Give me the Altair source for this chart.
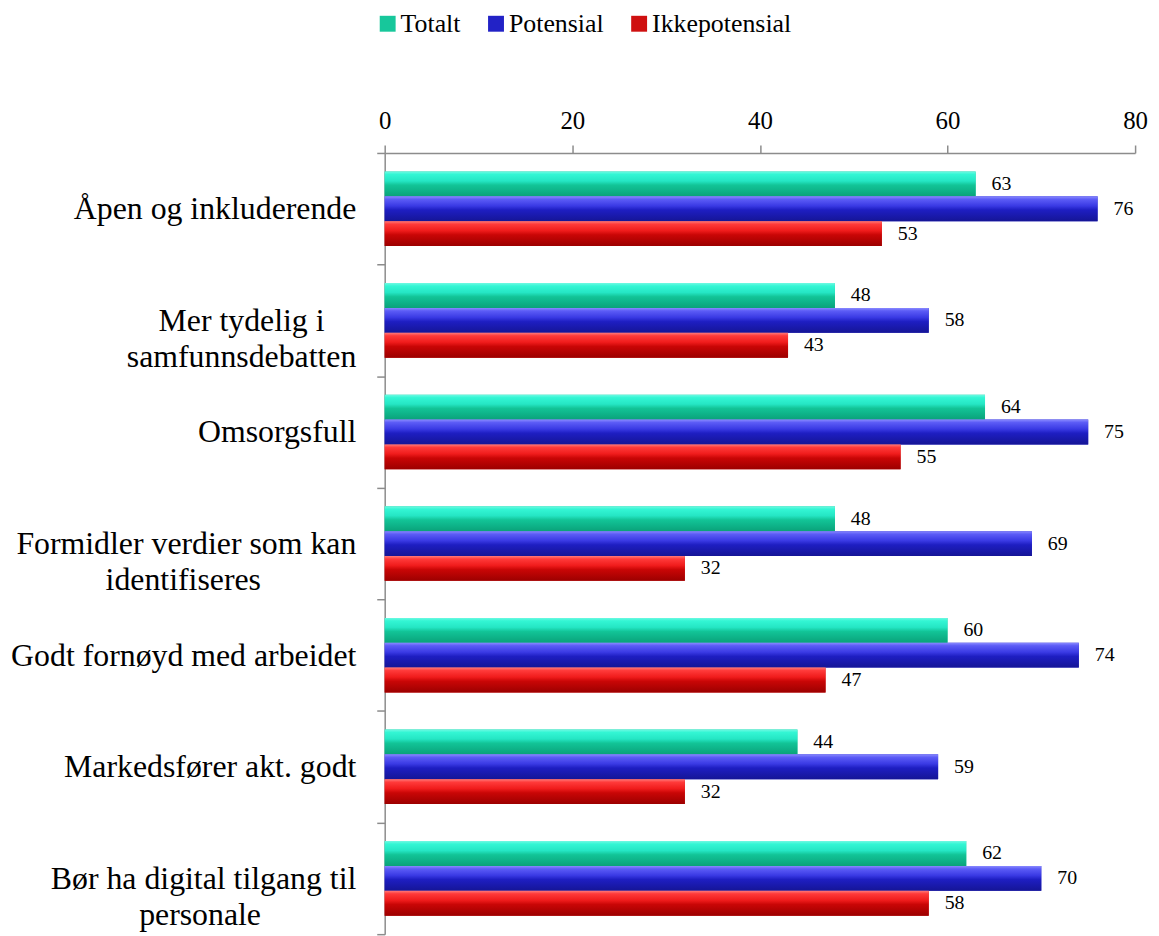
import altair as alt
import pandas as pd

categories = [
    "Åpen og inkluderende",
    "Mer tydelig i samfunnsdebatten",
    "Omsorgsfull",
    "Formidler verdier som kan identifiseres",
    "Godt fornøyd med arbeidet",
    "Markedsfører akt. godt",
    "Bør ha digital tilgang til personale",
]
series = ["Totalt", "Potensial", "Ikkepotensial"]
totalt = [63, 48, 64, 48, 60, 44, 62]
potensial = [76, 58, 75, 69, 74, 59, 70]
ikkepotensial = [53, 43, 55, 32, 47, 32, 58]
x_ticks = [0, 20, 40, 60, 80]

rows = []
for name, vals in zip(series, [totalt, potensial, ikkepotensial]):
    for c, v in zip(categories, vals):
        rows.append({"Kategori": c, "Serie": name, "Verdi": v})
df = pd.DataFrame(rows)

FONT = "Liberation Serif"
NB = "\u00a0"
ZW = "\u200b"
# line breaks for the wrapped category labels (shorter line padded so lines look centred)
wrapped = {
    "Mer tydelig i samfunnsdebatten": ["Mer tydelig i" + NB * 4 + ZW, "samfunnsdebatten"],
    "Formidler verdier som kan identifiseres": ["Formidler verdier som kan", "identifiseres" + NB * 12 + ZW],
    "Bør ha digital tilgang til personale": ["Bør ha digital tilgang til", "personale" + NB * 12 + ZW],
}
label_expr = ""
for k, lines in wrapped.items():
    arr = "[" + ", ".join("'" + l + "'" for l in lines) + "]"
    label_expr += f"datum.value == '{k}' ? {arr} : "
label_expr += "datum.label"

solid = ["#17c79b", "#2222c6", "#cf1010"]
grad_stops = {
    "Totalt": ["#6ff9e2", "#33f6d4", "#25e6c4", "#12c497", "#0aa27a"],
    "Potensial": ["#8a8aff", "#5c5cf6", "#3a3ae4", "#1e1ec2", "#151596"],
    "Ikkepotensial": ["#ff7a7a", "#ff3a3a", "#f01c1c", "#c90606", "#9c0000"],
}
offsets = [0.0, 0.12, 0.38, 0.55, 1.0]

y_enc = alt.Y(
    "Kategori:N",
    sort=categories,
    scale=alt.Scale(paddingInner=0, paddingOuter=0),
    axis=alt.Axis(
        title=None,
        labelExpr=label_expr,
        labelFont=FONT,
        labelFontSize=32,
        labelLineHeight=36,
        labelColor="#000000",
        labelLimit=600,
        labelAlign="right",
        labelPadding=21,
        tickBand="extent",
        tickSize=8,
        tickColor="#8c8c8c",
        tickWidth=1.5,
        domainColor="#8c8c8c",
        domainWidth=1.5,
    ),
)
yoff_enc = alt.YOffset("Serie:N", sort=series, scale=alt.Scale(paddingInner=0, paddingOuter=0.745))
x_enc = alt.X(
    "Verdi:Q",
    scale=alt.Scale(domain=[0, 80], nice=False),
    axis=alt.Axis(
        orient="top",
        title=None,
        values=x_ticks,
        grid=False,
        labelFlush=False,
        labelFont=FONT,
        labelFontSize=25,
        labelColor="#000000",
        labelPadding=12,
        tickSize=8,
        tickColor="#8c8c8c",
        tickWidth=1.5,
        domainColor="#8c8c8c",
        domainWidth=1.5,
    ),
)

base = alt.Chart(df).mark_bar().encode(
    y=y_enc,
    yOffset=yoff_enc,
    x=x_enc,
    color=alt.Color(
        "Serie:N",
        sort=series,
        scale=alt.Scale(domain=series, range=solid),
        legend=alt.Legend(
            title=None,
            orient="none",
            direction="horizontal",
            legendX=-10,
            legendY=-143,
            labelFont=FONT,
            labelFontSize=26,
            labelColor="#000000",
            symbolType="square",
            symbolSize=256,
            symbolStrokeWidth=0,
            labelOffset=0,
            columnPadding=22,
            padding=0,
        ),
    ),
)

layers = [base]
for name in series:
    g = alt.Gradient(
        gradient="linear",
        stops=[alt.GradientStop(offset=o, color=c) for o, c in zip(offsets, grad_stops[name])],
        x1=0, x2=0, y1=0, y2=1,
    )
    layers.append(
        alt.Chart(df)
        .transform_filter(alt.datum.Serie == name)
        .mark_bar(color=g)
        .encode(y=alt.Y("Kategori:N", sort=categories), yOffset=alt.YOffset("Serie:N", sort=series), x="Verdi:Q")
    )

text = alt.Chart(df).mark_text(
    align="left", baseline="middle", dx=16, font=FONT, fontSize=20, color="#000000"
).encode(
    y=alt.Y("Kategori:N", sort=categories),
    yOffset=alt.YOffset("Serie:N", sort=series),
    x="Verdi:Q",
    text="Verdi:Q",
)
layers.append(text)

chart = (
    alt.layer(*layers)
    .properties(
        width=755,
        height=786,
        autosize=alt.AutoSizeParams(type="none"),
        padding={"left": 379, "top": 143, "right": 16, "bottom": 0},
    )
    .configure_view(stroke=None)
)

chart.save("out.html", embed_options={"renderer": "svg", "actions": False})
